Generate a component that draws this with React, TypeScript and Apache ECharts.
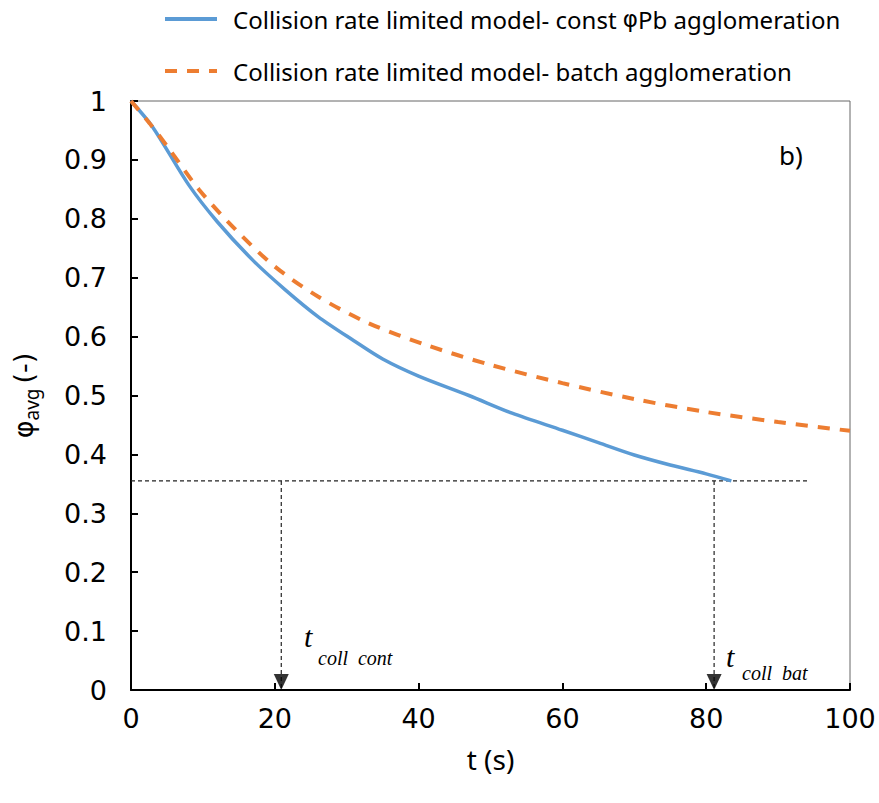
import React, { useEffect, useRef } from "react";
import * as echarts from "echarts";

const FONT = "'Noto Sans', 'DejaVu Sans', sans-serif";
const TICKFONT = "'DejaVu Sans', 'Noto Sans', sans-serif";
const SERIF = "'Liberation Serif', 'DejaVu Serif', serif";

const legendNames = [
  "Collision rate limited model- const φPb agglomeration",
  "Collision rate limited model- batch agglomeration",
];

const tBlue = [0, 3, 8, 12, 17, 21.5, 26, 31, 35, 40, 47, 53, 60, 65, 70, 75, 80, 83.5];
const vBlue = [1.0, 0.956, 0.858, 0.795, 0.729, 0.679, 0.634, 0.593, 0.562, 0.533, 0.5, 0.47, 0.441, 0.42, 0.399, 0.382, 0.367, 0.355];

const tOrange = [0, 2.6, 5.4, 9.5, 14.6, 20, 26, 33, 41, 50, 60, 70, 80, 90, 100];
const vOrange = [1.0, 0.962, 0.917, 0.849, 0.781, 0.719, 0.668, 0.623, 0.586, 0.552, 0.521, 0.494, 0.472, 0.455, 0.44];

// reference lines
const phiColl = 0.355;
const tCollCont = 20.9;
const tCollBat = 81.1;
const tRefEnd = 94.2;

export default function App() {
  const ref = useRef<HTMLDivElement>(null);
  useEffect(() => {
    if (!ref.current) return;
    const chart = echarts.init(ref.current, undefined, { renderer: "svg" });
    const pair = (xs: number[], ys: number[]) => xs.map((x, i) => [x, ys[i]]);
    const refLine = {
      type: "line",
      silent: true,
      symbol: "none",
      lineStyle: { color: "#222", width: 1.2, type: [4, 3] },
      z: 1,
    };
    const mainT = { font: `italic 30px ${SERIF}`, fill: "#000" };
    const subT = { font: `italic 20px ${SERIF}`, fill: "#000" };
    chart.setOption({
      animation: false,
      grid: {
        left: 131,
        right: 29,
        top: 101,
        bottom: 113,
        show: true,
        borderColor: "#666",
        borderWidth: 1,
      },
      legend: {
        orient: "vertical",
        left: 158,
        top: 2,
        itemWidth: 52,
        itemHeight: 14,
        itemGap: 28,
        data: legendNames,
        itemStyle: { opacity: 0 },
        lineStyle: { width: 4 },
        formatter: (name: string) => name.replace("φ", "{p|φ}"),
        textStyle: {
          fontFamily: FONT,
          fontSize: 24,
          color: "#000",
          padding: [0, 0, 0, 11],
          rich: { p: { fontFamily: "'DejaVu Sans', sans-serif", fontSize: 23, color: "#000" } },
        },
      },
      xAxis: {
        type: "value",
        min: 0,
        max: 100,
        interval: 20,
        name: "t (s)",
        nameLocation: "middle",
        nameGap: 55,
        nameTextStyle: { fontFamily: FONT, fontSize: 28, color: "#000" },
        axisLine: { lineStyle: { color: "#000", width: 2 } },
        axisTick: { inside: true, length: 7, lineStyle: { color: "#000", width: 2 } },
        axisLabel: { fontFamily: TICKFONT, fontSize: 27, color: "#000", margin: 15 },
        splitLine: { show: false },
      },
      yAxis: {
        type: "value",
        min: 0,
        max: 1,
        interval: 0.1,
        name: "{a|φ}{s|avg}{a|(-)}",
        nameLocation: "middle",
        nameRotate: 90,
        nameGap: 90,
        nameTextStyle: {
          rich: {
            a: { fontFamily: "'DejaVu Sans', sans-serif", fontSize: 27, color: "#000", lineHeight: 36, verticalAlign: "middle" },
            s: { fontFamily: FONT, fontSize: 19, color: "#000", lineHeight: 36, verticalAlign: "bottom", padding: [0, 5, 0, 0] },
          },
        },
        axisLine: { show: true, lineStyle: { color: "#000", width: 2 } },
        axisTick: { show: true, inside: true, length: 7, lineStyle: { color: "#000", width: 2 } },
        axisLabel: {
          fontFamily: TICKFONT,
          fontSize: 27,
          color: "#000",
          margin: 24,
          formatter: (v: number) => String(Math.round(v * 10) / 10),
        },
        splitLine: { show: false },
      },
      series: [
        {
          name: legendNames[0],
          type: "line",
          data: pair(tBlue, vBlue),
          smooth: 0.3,
          symbol: "none",
          lineStyle: { color: "#5B9BD5", width: 3.5 },
          itemStyle: { color: "#5B9BD5" },
          z: 3,
        },
        {
          name: legendNames[1],
          type: "line",
          data: pair(tOrange, vOrange),
          smooth: 0.3,
          symbol: "none",
          lineStyle: { color: "#ED7D31", width: 4, type: [12, 10] },
          itemStyle: { color: "#ED7D31" },
          z: 3,
        },
        { ...refLine, data: [[0, phiColl], [tRefEnd, phiColl]] },
        { ...refLine, data: [[tCollCont, phiColl], [tCollCont, 0]] },
        { ...refLine, data: [[tCollBat, phiColl], [tCollBat, 0]] },
        {
          type: "scatter",
          silent: true,
          symbol: "triangle",
          symbolRotate: 180,
          symbolSize: [15, 16],
          symbolOffset: [0, -8],
          itemStyle: { color: "#000" },
          data: [[tCollCont, 0], [tCollBat, 0]],
          z: 4,
        },
      ],
      graphic: [
        { type: "text", left: 779, top: 142, style: { text: "b)", font: `26px ${FONT}`, fill: "#000" } },
        { type: "text", left: 304, top: 621, style: { text: "t", ...mainT } },
        { type: "text", left: 318, top: 648, style: { text: "coll  cont", ...subT } },
        { type: "text", left: 726, top: 641, style: { text: "t", ...mainT } },
        { type: "text", left: 742, top: 663, style: { text: "coll  bat", ...subT } },
      ],
    });
    return () => chart.dispose();
  }, []);
  return (
    <div
      ref={ref}
      style={{ position: "absolute", left: 0, top: 0, width: 879, height: 803 }}
    />
  );
}
